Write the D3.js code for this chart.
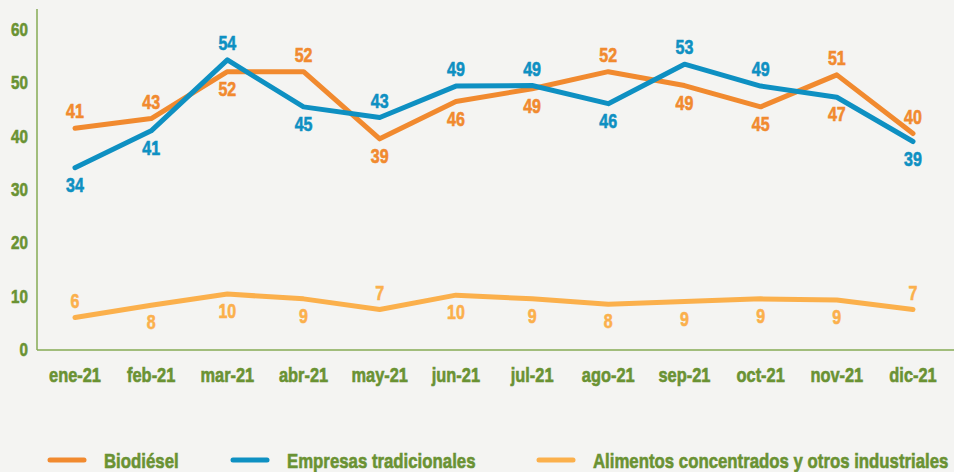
<!DOCTYPE html>
<html>
<head>
<meta charset="utf-8">
<script src="https://cdn.jsdelivr.net/npm/d3@7"></script>
<style>
	body { margin: 0; background: #f4f4f2; }
	svg text { font-family: "Liberation Sans", Arial, sans-serif; font-weight: bold; paint-order: stroke; stroke-width: 0.6px; }
</style>
</head>
<body>
<div id="chart"></div>
<script>
// months on the x axis
let months = ["ene-21", "feb-21", "mar-21", "abr-21", "may-21", "jun-21", "jul-21", "ago-21", "sep-21", "oct-21", "nov-21", "dic-21"]
let yTicks = [0, 10, 20, 30, 40, 50, 60]

// series values
let biodiesel = [41.4, 43.2, 52.0, 52.0, 39.4, 46.4, 48.8, 52.0, 49.4, 45.4, 51.4, 40.4]
let tradicionales = [34.0, 40.9, 54.2, 45.4, 43.4, 49.3, 49.4, 46.0, 53.4, 49.3, 47.2, 38.9]
let alimentos = [5.9, 8.2, 10.3, 9.4, 7.4, 10.1, 9.4, 8.4, 8.9, 9.4, 9.2, 7.4]

// where each value label sits: 1 = above the point, -1 = below
let biodieselPos = [1, 1, -1, 1, -1, -1, -1, 1, -1, -1, 1, 1]
let tradicionalesPos = [-1, -1, 1, -1, 1, 1, 1, -1, 1, 1, -1, -1]
let alimentosPos = [1, -1, -1, -1, 1, -1, -1, -1, -1, -1, -1, 1]

let series = [
	{ name: "Biodiésel", values: biodiesel, pos: biodieselPos, color: "#f18a2f" },
	{ name: "Empresas tradicionales", values: tradicionales, pos: tradicionalesPos, color: "#0e90c2" },
	{ name: "Alimentos concentrados y otros industriales", values: alimentos, pos: alimentosPos, color: "#fbb04c" }
]
// in the original the nov label of the blue line is printed in orange
tradicionales.labelColors = { 10: "#f18a2f" }

let W = 954, H = 472
let green = "#6a9233"
let narrow = 0.8 // squeeze the font horizontally, the original uses a condensed face

function place(px, py) {
	return "translate(" + px + "," + py + ") scale(" + narrow + ",1)"
}

let svg = d3.select("#chart").append("svg")
	.attr("width", W)
	.attr("height", H)

svg.append("rect").attr("width", W).attr("height", H).attr("fill", "#f4f4f2")

let x = d3.scalePoint()
	.domain(months)
	.range([75, 913])

let y = d3.scaleLinear()
	.domain([0, 60])
	.range([349, 29])

// axis lines
svg.append("line")
	.attr("x1", 37).attr("x2", 37)
	.attr("y1", 9).attr("y2", 350)
	.attr("stroke", "#86ab55").attr("stroke-width", 1.5)
svg.append("line")
	.attr("x1", 37).attr("x2", W)
	.attr("y1", 350).attr("y2", 350)
	.attr("stroke", "#86ab55").attr("stroke-width", 1.5)

// y tick labels
svg.append("g")
	.selectAll("text")
	.data(yTicks)
	.enter().append("text")
	.attr("transform", function (d) { return place(28, y(d)); })
	.attr("dy", "0.36em")
	.attr("text-anchor", "end")
	.attr("font-size", 19)
	.attr("fill", green)
	.attr("stroke", green)
	.text(function (d) { return d; })

// x tick labels
svg.append("g")
	.selectAll("text")
	.data(months)
	.enter().append("text")
	.attr("transform", function (d) { return place(x(d), 375); })
	.attr("dy", "0.36em")
	.attr("text-anchor", "middle")
	.attr("font-size", 20.5)
	.attr("fill", green)
	.attr("stroke", green)
	.text(function (d) { return d; })

let line = d3.line()
	.x(function (d, i) { return x(months[i]); })
	.y(function (d) { return y(d); })

// lines (light one first, then the two upper lines)
let order = [series[2], series[0], series[1]]
svg.append("g")
	.selectAll("path")
	.data(order)
	.enter().append("path")
	.attr("d", function (s) { return line(s.values); })
	.attr("fill", "none")
	.attr("stroke", function (s) { return s.color; })
	.attr("stroke-width", 5)
	.attr("stroke-linejoin", "round")
	.attr("stroke-linecap", "round")

// value labels
svg.append("g")
	.selectAll("g")
	.data(series)
	.enter().append("g")
	.selectAll("text")
	.data(function (s) {
		return s.values.map(function (v, i) {
			let c = (s.values.labelColors && s.values.labelColors[i]) || s.color
			return { v: v, i: i, pos: s.pos[i], color: c }
		})
	})
	.enter().append("text")
	.attr("transform", function (d) { return place(x(months[d.i]), y(d.v) - d.pos * 17); })
	.attr("dy", "0.36em")
	.attr("text-anchor", "middle")
	.attr("font-size", 20)
	.attr("fill", function (d) { return d.color; })
	.attr("stroke", function (d) { return d.color; })
	.text(function (d) { return Math.round(d.v); })

// legend
let legendX = [50, 233, 539]
let legend = svg.append("g")
	.selectAll("g")
	.data(series)
	.enter().append("g")
	.attr("transform", function (d, i) { return "translate(" + legendX[i] + ",460)"; })
legend.append("line")
	.attr("x1", 0).attr("x2", 34)
	.attr("stroke", function (d) { return d.color; })
	.attr("stroke-width", 5)
	.attr("stroke-linecap", "round")
legend.append("text")
	.attr("transform", place(54, 0))
	.attr("dy", "0.36em")
	.attr("font-size", 21)
	.attr("fill", green)
	.attr("stroke", green)
	.text(function (d) { return d.name; })
</script>
</body>
</html>
